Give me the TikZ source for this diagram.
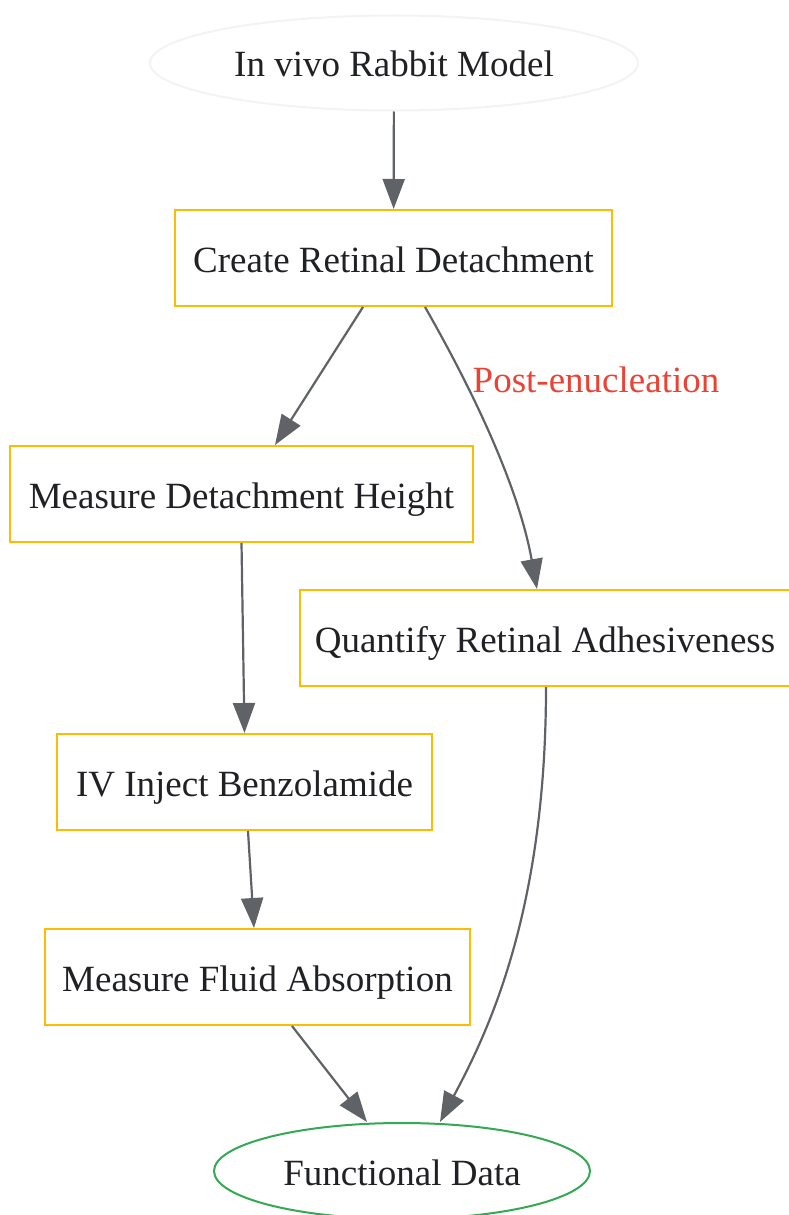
\documentclass[tikz,border=0pt]{standalone}
\usepackage{fontspec}
\setmainfont{Liberation Serif}
\usepackage{xcolor}
\usetikzlibrary{shapes,arrows.meta,positioning,calc}
\definecolor{oro}{HTML}{FBBC04}
\definecolor{verde}{HTML}{34A853}
\definecolor{rojo}{HTML}{EA4335}
\definecolor{grisflecha}{HTML}{5F6368}
\definecolor{grisclaro}{HTML}{F1F3F4}
\definecolor{texto}{HTML}{202124}

\begin{document}
\begin{tikzpicture}[x=1pt,y=-1pt]
  \tikzstyle{letra}=[font=\fontsize{37}{44}\selectfont, text height=36pt, text depth=8pt, inner sep=0pt]
  \tikzstyle{proceso}=[letra, rectangle, draw=oro, line width=2pt, minimum height=96pt, text=texto]
  \tikzstyle{origen}=[letra, ellipse, draw=grisclaro, line width=2pt, minimum width=488pt, minimum height=95pt, text=texto]
  \tikzstyle{resultado}=[letra, ellipse, draw=verde, line width=2pt, minimum width=376pt, minimum height=96pt, text=texto]
  \tikzstyle{flecha}=[-{Triangle[length=30pt,width=22pt]}, line width=2.2pt, draw=grisflecha, fill=none]
  \tikzstyle{etiqueta}=[letra, text=rojo]

  \useasboundingbox (0,0) rectangle (788,1215);

  % Modelo de partida
  \node[origen] (rabbit) at (394,63) {In vivo Rabbit Model};

  % Pasos del procedimiento
  \node[proceso, minimum width=437pt] (create) at (393.5,258) {Create Retinal Detachment};
  \node[proceso, minimum width=463pt] (height) at (241.5,494) {Measure Detachment Height};
  \node[proceso, minimum width=490pt] (adhes) at (545,638) {Quantify Retinal Adhesiveness};
  \node[proceso, minimum width=375pt] (inject) at (244.5,782) {IV Inject Benzolamide};
  \node[proceso, minimum width=425pt] (fluid) at (257.5,977) {Measure Fluid Absorption};

  % Resultado
  \node[resultado] (funcdata) at (402,1171) {Functional Data};

  % Etiqueta de la rama
  \node[etiqueta] (postlbl) at (596,378) {Post-enucleation};

  % Conexiones
  \draw[flecha] (rabbit) -- (create);
  \draw[flecha] ([xshift=-30.5pt]create.south) -- ([xshift=33.5pt]height.north);
  \draw[flecha] ([xshift=31.5pt]create.south) .. controls +(40,70) and +(-20,-110) .. ([xshift=-8pt]adhes.north);
  \draw[flecha] (height.south) -- (inject.north);
  \draw[flecha] ([xshift=3.5pt]inject.south) -- ([xshift=-3.5pt]fluid.north);
  \draw[flecha] ([xshift=34.5pt]fluid.south) -- ([xshift=-35pt]funcdata.north);
  \draw[flecha] ([xshift=1pt]adhes.south) .. controls +(0,230) and +(45,-85) .. ([xshift=38pt]funcdata.north);
\end{tikzpicture}
\end{document}
